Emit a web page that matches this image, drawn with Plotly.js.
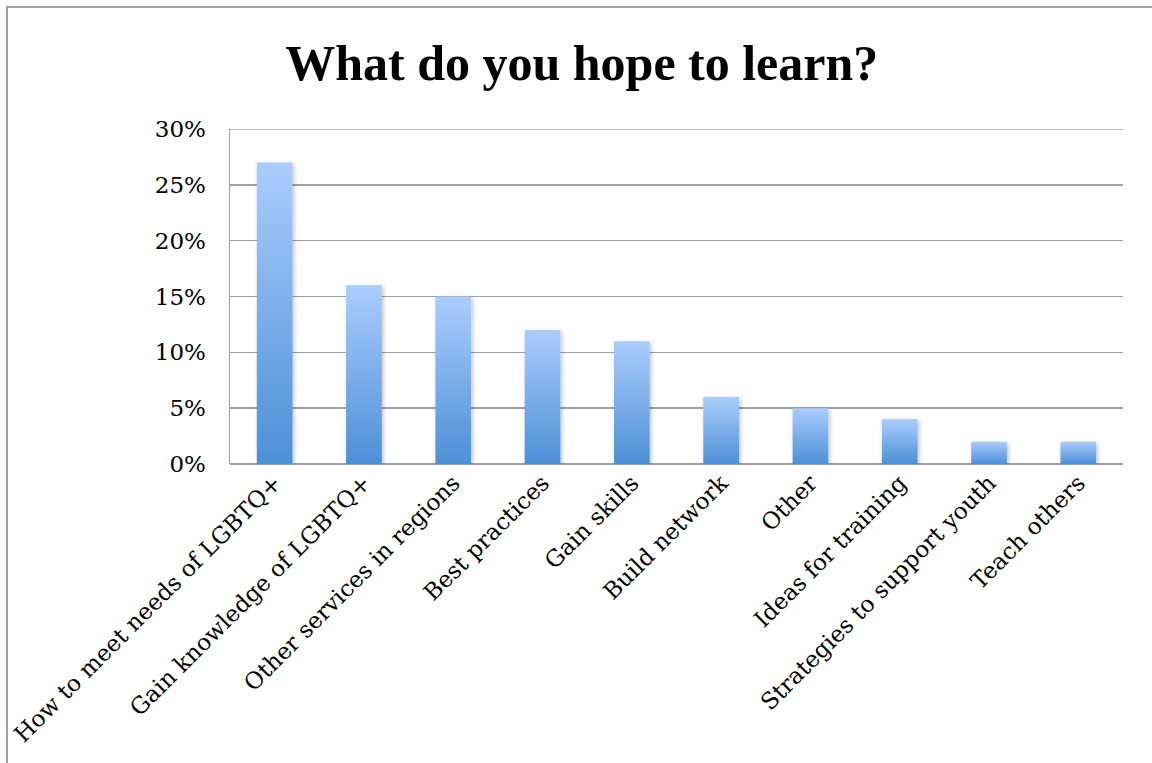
<!DOCTYPE html>
<html>
<head>
<meta charset="utf-8">
<script src="https://cdn.plot.ly/plotly-3.0.1.min.js"></script>
<style>
  html, body { margin: 0; padding: 0; overflow: hidden; background: #fff; }
  #chart { position: absolute; left: 0; top: 0; width: 1152px; height: 763px; }
  #frame { position: absolute; left: 6px; top: 6px; width: 1300px; height: 900px;
           border: 2px solid #a0a0a0; pointer-events: none; }
</style>
</head>
<body>
<div id="chart"></div>
<div id="frame"></div>
<script>
const categories = [
  "How to meet needs of LGBTQ+",
  "Gain knowledge of LGBTQ+",
  "Other services in regions",
  "Best practices",
  "Gain skills",
  "Build network",
  "Other",
  "Ideas for training",
  "Strategies to support youth",
  "Teach others"
];
const shares = [0.27, 0.16, 0.15, 0.12, 0.11, 0.06, 0.05, 0.04, 0.02, 0.02];
const yTickVals = [0, 0.05, 0.10, 0.15, 0.20, 0.25, 0.30];
const yTickText = ["0%", "5%", "10%", "15%", "20%", "25%", "30%"];
const yMax = 0.30;

const titleFont = "'Liberation Serif', serif";
const tickFontFamily = "'DejaVu Serif', 'Liberation Serif', serif";

const trace = {
  type: "bar",
  x: categories,
  y: shares,
  width: 0.4,
  marker: { color: "#7aaee8", line: { width: 0 } },
  hoverinfo: "x+y"
};

const layout = {
  width: 1152,
  height: 763,
  paper_bgcolor: "#ffffff",
  plot_bgcolor: "#ffffff",
  margin: { l: 230, r: 29, t: 129, b: 299 },
  title: {
    text: "<b>What do you hope to learn?</b>",
    font: { family: titleFont, size: 50, color: "#000" },
    x: 0.505, xanchor: "center",
    y: 0.918, yanchor: "middle"
  },
  showlegend: false,
  xaxis: {
    tickangle: -45,
    tickfont: { family: tickFontFamily, size: 23, color: "#000" },
    showgrid: false,
    showline: false,
    ticks: "",
    zeroline: false,
    automargin: false
  },
  yaxis: {
    range: [0, yMax],
    tickvals: yTickVals,
    ticktext: yTickText,
    tickfont: { family: tickFontFamily, size: 23, color: "#000" },
    showgrid: true,
    gridcolor: "#a0a0a0",
    gridwidth: 1.5,
    showline: true,
    linecolor: "#a0a0a0",
    linewidth: 1.5,
    zeroline: true,
    zerolinecolor: "#a0a0a0",
    zerolinewidth: 1.5,
    ticks: "",
    ticklabelstandoff: 18,
    automargin: false
  },
  shapes: [{
    type: "line", xref: "paper", yref: "y",
    x0: 0, x1: 1, y0: yMax, y1: yMax,
    line: { color: "#a0a0a0", width: 1.5 },
    layer: "below"
  }],
  bargap: 0.6
};

Plotly.newPlot("chart", [trace], layout, { displayModeBar: false, staticPlot: true }).then(function () {
  const svgNS = "http://www.w3.org/2000/svg";
  const svg = document.querySelector("#chart svg.main-svg");
  let defs = svg.querySelector("defs");
  if (!defs) { defs = document.createElementNS(svgNS, "defs"); svg.insertBefore(defs, svg.firstChild); }
  const grad = document.createElementNS(svgNS, "linearGradient");
  grad.setAttribute("id", "barGrad");
  grad.setAttribute("x1", "0"); grad.setAttribute("y1", "0");
  grad.setAttribute("x2", "0"); grad.setAttribute("y2", "1");
  [["0", "#aacdfd"], ["1", "#4d8fd6"]].forEach(function (s) {
    const st = document.createElementNS(svgNS, "stop");
    st.setAttribute("offset", s[0]);
    st.setAttribute("stop-color", s[1]);
    grad.appendChild(st);
  });
  defs.appendChild(grad);
  const filt = document.createElementNS(svgNS, "filter");
  filt.setAttribute("id", "barShadow");
  filt.setAttribute("x", "-30%"); filt.setAttribute("y", "-10%");
  filt.setAttribute("width", "160%"); filt.setAttribute("height", "130%");
  const ds = document.createElementNS(svgNS, "feDropShadow");
  ds.setAttribute("dx", "1.5"); ds.setAttribute("dy", "1.5");
  ds.setAttribute("stdDeviation", "2");
  ds.setAttribute("flood-color", "#000");
  ds.setAttribute("flood-opacity", "0.25");
  filt.appendChild(ds);
  defs.appendChild(filt);
  document.querySelectorAll("#chart .bars .point path").forEach(function (p) {
    p.style.fill = "url(#barGrad)";
    p.setAttribute("filter", "url(#barShadow)");
  });
});
</script>
</body>
</html>
